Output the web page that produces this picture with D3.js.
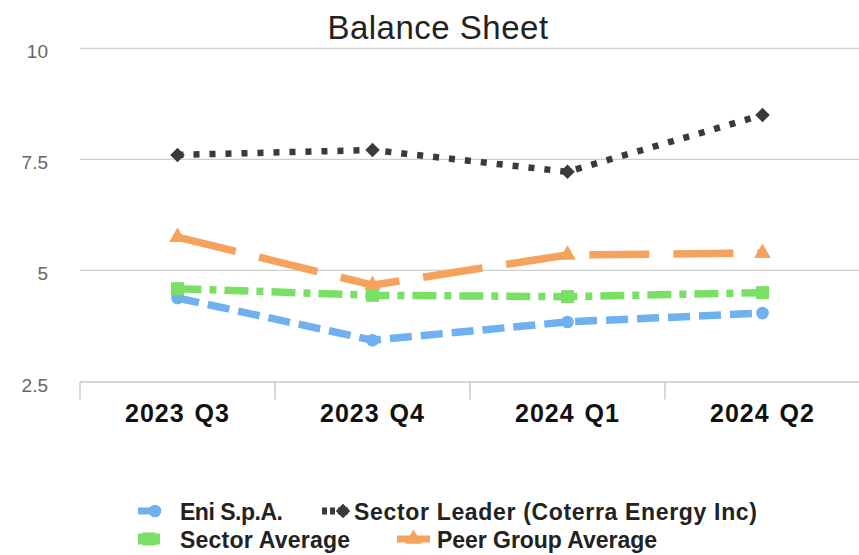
<!DOCTYPE html>
<html lang="en">
<head>
<meta charset="UTF-8">
<title>Balance Sheet</title>
<script src="https://cdn.jsdelivr.net/npm/d3@7/dist/d3.min.js"></script>
<style>
  body { margin: 0; background: #fff; font-family: Arial, "Liberation Sans", sans-serif; }
</style>
</head>
<body>
<div id="chart"></div>
<script>
// chart data
const quarters = ["2023 Q3", "2023 Q4", "2024 Q1", "2024 Q2"];
const eni = [4.38, 3.43, 3.84, 4.04];
const sectorLeader = [7.60, 7.71, 7.22, 8.50];
const sectorAverage = [4.59, 4.44, 4.41, 4.50];
const peerGroup = [5.75, 4.67, 5.35, 5.39];
const yTicks = [2.5, 5, 7.5, 10];

const series = [
  { name: "Eni S.p.A.", values: eni, color: "#6fb0ee", dash: "22,9", marker: "circle" },
  { name: "Sector Leader (Coterra Energy Inc)", values: sectorLeader, color: "#3a3a3a", dash: "6,10", marker: "diamond" },
  { name: "Sector Average", values: sectorAverage, color: "#79e065", dash: "24,8,7,8", marker: "square" },
  { name: "Peer Group Average", values: peerGroup, color: "#f5a25d", dash: "60,24", marker: "triangle" }
];

const width = 859, height = 555;
const svg = d3.select("#chart").append("svg")
  .attr("width", width).attr("height", height);

const x = d3.scaleBand().domain(quarters).range([80, 860]);
const y = d3.scaleLinear().domain([2.5, 10]).range([381.5, 48.3]);

// title
svg.append("text")
  .attr("x", 438).attr("y", 39)
  .attr("text-anchor", "middle")
  .style("font-size", "33px")
  .style("letter-spacing", "0.5px")
  .style("fill", "#222")
  .text("Balance Sheet");

// gridlines
svg.selectAll(".grid").data(yTicks.filter(d => d > 2.5)).enter()
  .append("line")
  .attr("x1", 80).attr("x2", 860)
  .attr("y1", d => y(d)).attr("y2", d => y(d))
  .attr("stroke", "#cfcfcf").attr("stroke-width", 1.3);

// y tick labels
svg.selectAll(".ylab").data(yTicks).enter()
  .append("text")
  .attr("x", 48).attr("y", d => y(d) + 10)
  .attr("text-anchor", "end")
  .style("font-size", "19px")
  .style("fill", "#666")
  .text(d => d);

// x axis
const xAxis = svg.append("g").attr("transform", `translate(0,${y(2.5)})`)
  .call(d3.axisBottom(x).tickSize(0).tickPadding(23));
xAxis.select(".domain").attr("stroke", "#c3cbd8").attr("stroke-width", 1.5);
xAxis.selectAll("text")
  .style("font-size", "25px").style("font-weight", "bold")
  .style("letter-spacing", "1px").style("word-spacing", "2px")
  .style("font-family", "Arial, 'Liberation Sans', sans-serif")
  .style("fill", "#111");
const bounds = quarters.map(q => x(q)).concat([x.range()[1]]);
xAxis.selectAll(".sep").data(bounds).enter()
  .append("line")
  .attr("x1", d => d).attr("x2", d => d)
  .attr("y1", 0).attr("y2", 18)
  .attr("stroke", "#c3cbd8").attr("stroke-width", 1.5);

const cx = q => x(q) + x.bandwidth() / 2;

const symbolFor = {
  circle: d3.symbol().type(d3.symbolCircle).size(125),
  diamond: d3.symbol().type(d3.symbolSquare).size(105),
  square: d3.symbol().type(d3.symbolSquare).size(170),
  triangle: d3.symbol().type(d3.symbolTriangle).size(120)
};
const rot = m => m === "diamond" ? " rotate(45)" : "";

const line = d3.line().x((d, i) => cx(quarters[i])).y(d => y(d));

series.forEach(s => {
  svg.append("path")
    .datum(s.values)
    .attr("d", line)
    .attr("fill", "none")
    .attr("stroke", s.color)
    .attr("stroke-width", s.marker === "diamond" ? 6.5 : 7.5)
    .attr("stroke-dasharray", s.dash);
  svg.selectAll(null).data(s.values).enter()
    .append("path")
    .attr("d", symbolFor[s.marker])
    .attr("transform", (d, i) => `translate(${cx(quarters[i])},${y(d)})${rot(s.marker)}`)
    .attr("fill", s.color);
});

// legend
const legendPos = [
  { x: 138, y: 511, tx: 180, w: 103 }, { x: 322, y: 511, tx: 354, w: 403 },
  { x: 138, y: 539, tx: 180, w: 170 }, { x: 397, y: 539, tx: 437, w: 220 }
];
series.forEach((s, i) => {
  const p = legendPos[i];
  const g = svg.append("g").attr("transform", `translate(${p.x},${p.y})`);
  const len = s.marker === "triangle" ? 33 : (s.marker === "diamond" ? 26 : 22);
  g.append("line").attr("x1", 0).attr("x2", len).attr("y1", 0).attr("y2", 0)
    .attr("stroke", s.color).attr("stroke-width", s.marker === "square" ? 11 : 7)
    .attr("stroke-dasharray", s.marker === "diamond" ? "5,3" : null);
  const mx = s.marker === "circle" ? 17 : (s.marker === "diamond" ? 21 : len / 2);
  g.append("path").attr("d", symbolFor[s.marker])
    .attr("transform", `translate(${mx},0)${rot(s.marker)}`)
    .attr("fill", s.color);
  svg.append("text")
    .attr("x", p.tx)
    .attr("y", p.y + 9)
    .attr("textLength", p.w)
    .attr("lengthAdjust", "spacing")
    .style("font-size", "23px").style("font-weight", "bold")
    .style("font-family", "Arial, 'Liberation Sans', sans-serif")
    .style("fill", "#222")
    .text(s.name);
});
</script>
</body>
</html>
